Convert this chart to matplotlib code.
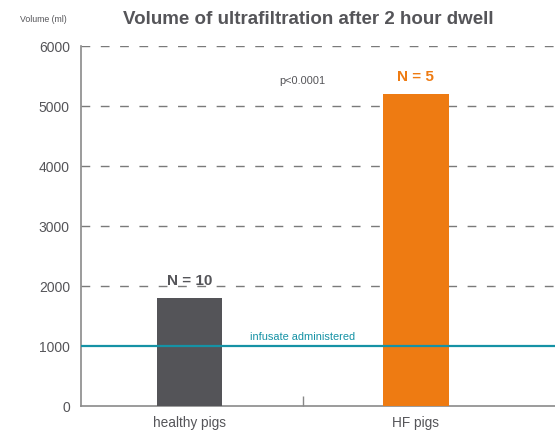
import matplotlib
matplotlib.use("Agg")
import matplotlib.pyplot as plt

categories = ["healthy pigs", "HF pigs"]
volumes = [1800, 5200]
n_labels = ["N = 10", "N = 5"]
infusate = 1000
yticks = [0, 1000, 2000, 3000, 4000, 5000, 6000]

plt.rcParams['font.family'] = ['Liberation Sans', 'DejaVu Sans']
grey = '#555559'
bar_colors = ['#545458', '#EE7B12']
teal = '#1592A5'

fig = plt.figure(figsize=(5.55, 4.32), dpi=100)
ax = fig.add_axes([81/555, 26/432, (555-81)/555, 360/432])

x = list(range(len(categories)))
ax.bar(x, volumes, width=0.29, color=bar_colors, zorder=3)
ax.set_xlim(-0.48, 1.615)
ax.set_ylim(0, 6000)

for yv in yticks[2:]:
    ax.axhline(yv, color='#7a7a7a', lw=1.0, dashes=(6.3, 7.6), zorder=1)
ax.axhline(infusate, color=teal, lw=1.6, zorder=4)
ax.text(0.5, infusate + 60, "infusate administered", color=teal, fontsize=7.9,
        ha='center', va='bottom', zorder=5)

ax.text(x[0], volumes[0] + 170, n_labels[0], color=grey, fontsize=11,
        fontweight='bold', ha='center', va='bottom')
ax.text(x[1], volumes[1] + 170, n_labels[1], color=bar_colors[1], fontsize=11,
        fontweight='bold', ha='center', va='bottom')
ax.text(0.5, 5420, "p<0.0001", color=grey, fontsize=7.9, ha='center', va='center')

ax.set_yticks(yticks)
ax.set_yticklabels([str(v) for v in yticks], color=grey, fontsize=10)
ax.tick_params(axis='y', length=0, pad=8)
ax.set_xticks([0.5])
ax.set_xticklabels([""])
ax.tick_params(axis='x', direction='in', length=7, color='#888888', width=1)
for xi, c in zip(x, categories):
    ax.text(xi, -290, c, color=grey, fontsize=9.8, ha='center', va='center')

for s in ['top', 'right']:
    ax.spines[s].set_visible(False)
for s in ['left', 'bottom']:
    ax.spines[s].set_color('#8a8a8a')
    ax.spines[s].set_linewidth(1.2)

fig.text(308/555, 1 - 20/432, "Volume of ultrafiltration after 2 hour dwell",
         color=grey, fontsize=13.5, fontweight='bold', ha='center', va='center')
fig.text(43/555, 1 - 19/432, "Volume (ml)", color=grey, fontsize=6.3,
         ha='center', va='center')

fig.savefig("out.png", dpi=100)
